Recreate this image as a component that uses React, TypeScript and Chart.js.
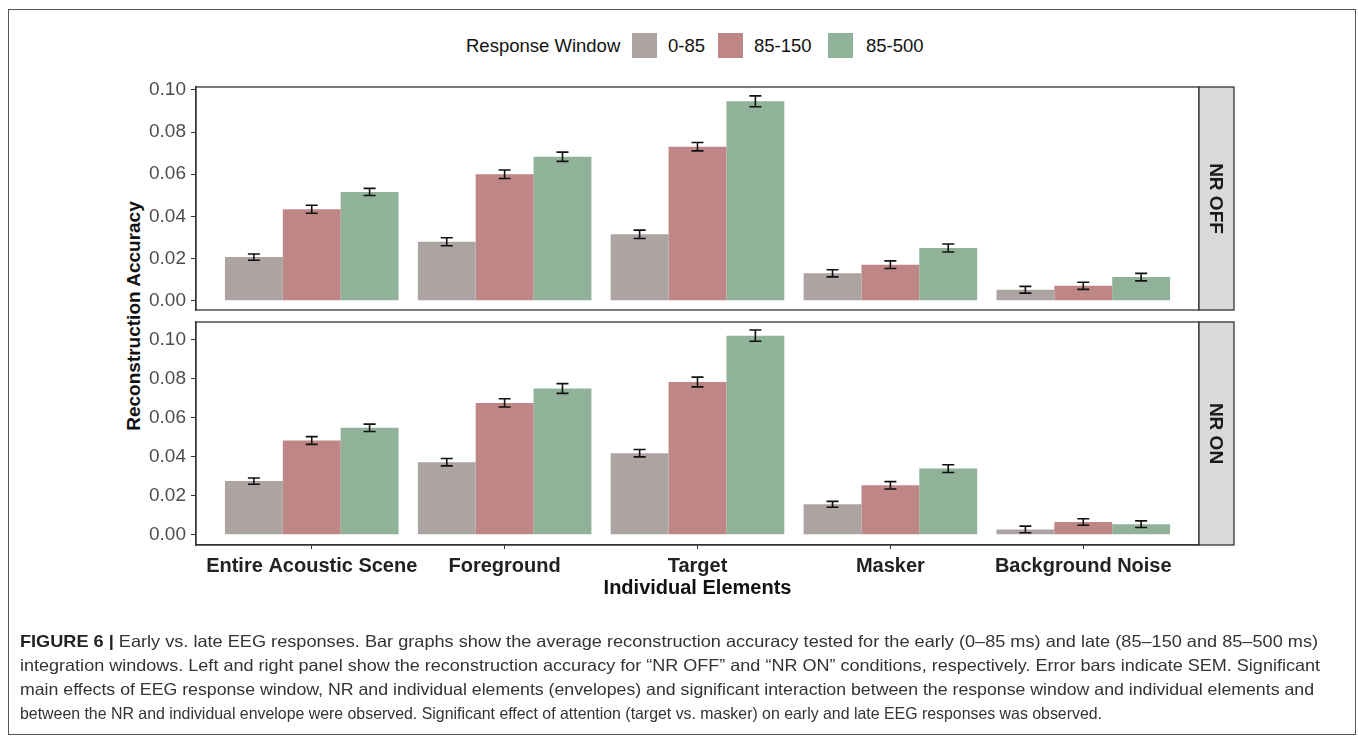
import React, { useEffect, useRef } from 'react';
import { Chart, registerables } from 'chart.js';

Chart.register(...registerables);

// ---------- data ----------
const categories = ['Entire Acoustic Scene', 'Foreground', 'Target', 'Masker', 'Background Noise'];
const windows = ['0-85', '85-150', '85-500'];
const yTickValues = [0, 0.02, 0.04, 0.06, 0.08, 0.1];

// NR OFF (top panel)
const nrOff_0_85 = [0.0207, 0.028, 0.0315, 0.013, 0.0052];
const nrOff_85_150 = [0.0434, 0.06, 0.0731, 0.0171, 0.0071];
const nrOff_85_500 = [0.0516, 0.0683, 0.0946, 0.025, 0.0112];
const nrOffSem_0_85 = [0.0015, 0.0019, 0.002, 0.0017, 0.0016];
const nrOffSem_85_150 = [0.0019, 0.002, 0.002, 0.0018, 0.0017];
const nrOffSem_85_500 = [0.0017, 0.0022, 0.0026, 0.0019, 0.0018];

// NR ON (bottom panel)
const nrOn_0_85 = [0.0276, 0.0373, 0.0419, 0.0157, 0.0028];
const nrOn_85_150 = [0.0484, 0.0677, 0.0784, 0.0254, 0.0066];
const nrOn_85_500 = [0.0549, 0.0751, 0.1022, 0.034, 0.0055];
const nrOnSem_0_85 = [0.0016, 0.0019, 0.0019, 0.0015, 0.0017];
const nrOnSem_85_150 = [0.002, 0.0021, 0.0025, 0.0019, 0.0017];
const nrOnSem_85_500 = [0.0019, 0.0025, 0.0029, 0.002, 0.0017];

const captionText = [
  'Early vs. late EEG responses. Bar graphs show the average reconstruction accuracy tested for the early (0–85 ms) and late (85–150 and 85–500 ms)',
  'integration windows. Left and right panel show the reconstruction accuracy for “NR OFF” and “NR ON” conditions, respectively. Error bars indicate SEM. Significant',
  'main effects of EEG response window, NR and individual elements (envelopes) and significant interaction between the response window and individual elements and',
  'between the NR and individual envelope were observed. Significant effect of attention (target vs. masker) on early and late EEG responses was observed.',
];

// ---------- style ----------
const barColors = ['rgb(174,163,163)', 'rgb(190,135,134)', 'rgb(143,178,153)'];
const FONT = '"Liberation Sans", Arial, Helvetica, sans-serif';
const W = 1358;
const H = 742;
const captionWidths = [1298, 1300, 1294, 1082];

const panelPlugin = {
  id: 'panel',
  afterDatasetsDraw(chart: any, _args: any, opts: any) {
    const { ctx, chartArea: a, scales } = chart;
    const y = scales.y;
    ctx.save();
    chart.data.datasets.forEach((ds: any, di: number) => {
      const meta = chart.getDatasetMeta(di);
      meta.data.forEach((el: any, i: number) => {
        const v = ds.data[i].y;
        const e = ds.errors[i];
        const yt = y.getPixelForValue(v + e);
        const yb = y.getPixelForValue(v - e);
        ctx.strokeStyle = '#111';
        ctx.lineWidth = 1.6;
        ctx.beginPath();
        ctx.moveTo(el.x, yt);
        ctx.lineTo(el.x, yb);
        ctx.moveTo(el.x - 6, yt);
        ctx.lineTo(el.x + 6, yt);
        ctx.moveTo(el.x - 6, yb);
        ctx.lineTo(el.x + 6, yb);
        ctx.stroke();
      });
    });
    // panel border
    ctx.strokeStyle = '#333';
    ctx.lineWidth = 1.3;
    ctx.strokeRect(a.left, a.top, a.right - a.left, a.bottom - a.top);
    // facet strip
    const sw = 35;
    ctx.fillStyle = '#d9d9d9';
    ctx.fillRect(a.right, a.top, sw, a.bottom - a.top);
    ctx.strokeRect(a.right, a.top, sw, a.bottom - a.top);
    ctx.translate(a.right + sw / 2, (a.top + a.bottom) / 2);
    ctx.rotate(Math.PI / 2);
    ctx.fillStyle = '#1a1a1a';
    ctx.font = 'bold 19px ' + FONT;
    ctx.textAlign = 'center';
    ctx.textBaseline = 'middle';
    ctx.fillText(opts.label, 0, 1);
    ctx.restore();
  },
};

function makeDatasets(series: number[][], sems: number[][]) {
  return series.map((vals, si) => ({
    label: windows[si],
    data: vals.map((v, i) => ({ x: i + 1, y: v })),
    errors: sems[si],
    backgroundColor: barColors[si],
    borderWidth: 0,
    categoryPercentage: 0.9,
    barPercentage: 1.0,
  }));
}

function makeConfig(
  series: number[][],
  sems: number[][],
  label: string,
  yMin: number,
  yMax: number,
  top: number,
  bottom: number,
  showX: boolean
): any {
  const xAxisHeight = 70;
  return {
    type: 'bar',
    data: { datasets: makeDatasets(series, sems) },
    plugins: [panelPlugin],
    options: {
      animation: false,
      responsive: false,
      maintainAspectRatio: false,
      layout: {
        padding: {
          left: 0,
          top: top,
          right: W - 1199,
          bottom: showX ? H - bottom - xAxisHeight : H - bottom,
        },
      },
      plugins: {
        legend: { display: false },
        tooltip: { enabled: false },
        panel: { label },
      },
      scales: {
        x: {
          type: 'linear',
          display: showX,
          offset: false,
          min: 0.4,
          max: 5.6,
          afterBuildTicks: (s: any) => {
            s.ticks = categories.map((_, i) => ({ value: i + 1 }));
          },
          afterFit: (s: any) => {
            if (showX) s.height = xAxisHeight;
          },
          grid: {
            offset: false,
            drawOnChartArea: false,
            drawTicks: true,
            tickLength: 4,
            tickColor: '#333',
            lineWidth: 1,
          },
          border: { display: true, color: '#333', width: 1.3 },
          ticks: {
            autoSkip: false,
            maxRotation: 0,
            padding: 5,
            color: '#222',
            font: { family: FONT, size: 20, weight: 'bold' },
            callback: (v: number) => categories[Math.round(v) - 1] ?? '',
          },
          title: {
            display: true,
            text: 'Individual Elements',
            color: '#111',
            font: { family: FONT, size: 20, weight: 'bold' },
            padding: { top: 0, bottom: 15 },
          },
        },
        y: {
          type: 'linear',
          min: yMin,
          max: yMax,
          afterBuildTicks: (s: any) => {
            s.ticks = yTickValues.map((v) => ({ value: v }));
          },
          afterFit: (s: any) => {
            s.width = 196;
          },
          grid: {
            drawOnChartArea: false,
            drawTicks: true,
            tickLength: 5,
            tickColor: '#333',
            lineWidth: 1,
          },
          border: { display: true, color: '#333', width: 1.3 },
          ticks: {
            padding: 5,
            color: '#4d4d4d',
            font: { family: FONT, size: 19 },
            callback: (v: number) => v.toFixed(2),
          },
        },
      },
    },
  };
}

export default function App() {
  const topRef = useRef<HTMLCanvasElement | null>(null);
  const botRef = useRef<HTMLCanvasElement | null>(null);
  const capRefs = useRef<(HTMLSpanElement | null)[]>([]);

  useEffect(() => {
    const c1 = new Chart(
      topRef.current as HTMLCanvasElement,
      makeConfig(
        [nrOff_0_85, nrOff_85_150, nrOff_85_500],
        [nrOffSem_0_85, nrOffSem_85_150, nrOffSem_85_500],
        'NR OFF',
        -0.0044,
        0.1014,
        87,
        310,
        false
      )
    );
    const c2 = new Chart(
      botRef.current as HTMLCanvasElement,
      makeConfig(
        [nrOn_0_85, nrOn_85_150, nrOn_85_500],
        [nrOnSem_0_85, nrOnSem_85_150, nrOnSem_85_500],
        'NR ON',
        -0.0052,
        0.1092,
        322,
        545,
        true
      )
    );
    // fit caption lines to reference widths
    capRefs.current.forEach((el, i) => {
      if (!el) return;
      const w = el.getBoundingClientRect().width;
      if (w > 0) el.style.transform = `scaleX(${captionWidths[i] / w})`;
    });
    return () => {
      c1.destroy();
      c2.destroy();
    };
  }, []);

  const legendItems = [
    { sq: 632, tx: 668 },
    { sq: 718, tx: 754 },
    { sq: 828, tx: 866 },
  ];

  return (
    <div
      style={{
        position: 'absolute',
        left: 0,
        top: 0,
        width: W,
        height: H,
        background: '#fff',
        overflow: 'hidden',
        fontFamily: FONT,
      }}
    >
      <div
        style={{
          position: 'absolute',
          left: 8,
          top: 9,
          width: 1348,
          height: 726,
          border: '1.5px solid #555',
          boxSizing: 'border-box',
        }}
      />
      {/* legend */}
      <div
        style={{
          position: 'absolute',
          left: 466,
          top: 46,
          transform: 'translateY(-50%)',
          fontSize: 18.5,
          color: '#111',
          whiteSpace: 'nowrap',
        }}
      >
        Response Window
      </div>
      {legendItems.map((it, i) => (
        <React.Fragment key={i}>
          <div
            style={{
              position: 'absolute',
              left: it.sq,
              top: 33,
              width: 25,
              height: 25,
              background: barColors[i],
            }}
          />
          <div
            style={{
              position: 'absolute',
              left: it.tx,
              top: 46,
              transform: 'translateY(-50%)',
              fontSize: 18.5,
              color: '#111',
              whiteSpace: 'nowrap',
            }}
          >
            {windows[i]}
          </div>
        </React.Fragment>
      ))}
      {/* y axis title */}
      <div
        style={{
          position: 'absolute',
          left: 134,
          top: 316,
          transform: 'translate(-50%, -50%) rotate(-90deg)',
          fontSize: 19,
          fontWeight: 'bold',
          color: '#111',
          whiteSpace: 'nowrap',
        }}
      >
        Reconstruction Accuracy
      </div>
      <canvas ref={topRef} width={W} height={H} style={{ position: 'absolute', left: 0, top: 0 }} />
      <canvas ref={botRef} width={W} height={H} style={{ position: 'absolute', left: 0, top: 0 }} />
      {/* caption */}
      {captionText.map((t, i) => (
        <span
          key={i}
          ref={(el) => {
            capRefs.current[i] = el;
          }}
          style={{
            position: 'absolute',
            left: 20,
            top: 629 + i * 24,
            height: 24,
            lineHeight: '24px',
            fontSize: 16.5,
            color: '#333',
            whiteSpace: 'nowrap',
            transformOrigin: 'left center',
            display: 'inline-block',
          }}
        >
          {i === 0 ? <b style={{ color: '#222' }}>FIGURE 6 | </b> : null}
          {t}
        </span>
      ))}
    </div>
  );
}
